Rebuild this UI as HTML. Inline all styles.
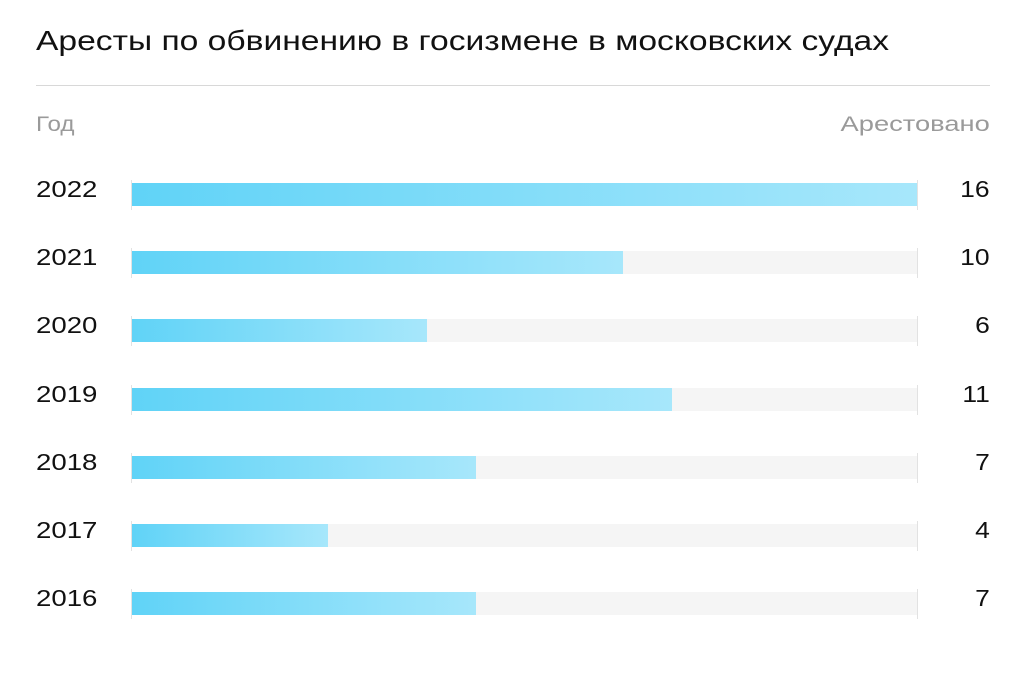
<!DOCTYPE html>
<html><head><meta charset="utf-8"><style>
body{margin:0;width:1024px;height:676px;background:#fff;font-family:"Liberation Sans",sans-serif;position:relative;overflow:hidden;color:#111}
.t{position:absolute;left:36px;top:25px;font-size:28px;color:#111;transform:scaleX(1.2);transform-origin:left}
.hr{position:absolute;left:36px;top:85px;width:954px;height:1px;background:#d8d8d8}
.h{position:absolute;top:113px;font-size:21px;color:#9a9a9a}
.hl{left:36px;transform:scaleX(1.15);transform-origin:left}
.hrt{right:34px;transform:scaleX(1.3);transform-origin:right}
.y{position:absolute;left:36px;font-size:23px;transform:scaleX(1.2);transform-origin:left}
.v{position:absolute;right:34px;font-size:23px;text-align:right;transform:scaleX(1.15);transform-origin:right}
.bg{position:absolute;left:132px;width:785px;height:23px;background:#f5f5f5}
.b{position:absolute;left:0;top:0;height:23px;background:linear-gradient(90deg,#60d3f7,#a7e7fb)}
.tk{position:absolute;width:1px;height:30px;background:#e2e2e2}
</style></head><body>
<div class="t">Аресты по обвинению в госизмене в московских судах</div>
<div class="hr"></div>
<div class="h hl">Год</div>
<div class="h hrt">Арестовано</div>
<div class="y" style="top:176px">2022</div><div class="v" style="top:176px">16</div>
<div class="bg" style="top:183px"><div class="b" style="width:785px"></div></div>
<div class="y" style="top:244px">2021</div><div class="v" style="top:244px">10</div>
<div class="bg" style="top:251px"><div class="b" style="width:491px"></div></div>
<div class="y" style="top:312px">2020</div><div class="v" style="top:312px">6</div>
<div class="bg" style="top:319px"><div class="b" style="width:295px"></div></div>
<div class="y" style="top:381px">2019</div><div class="v" style="top:381px">11</div>
<div class="bg" style="top:388px"><div class="b" style="width:540px"></div></div>
<div class="y" style="top:449px">2018</div><div class="v" style="top:449px">7</div>
<div class="bg" style="top:456px"><div class="b" style="width:344px"></div></div>
<div class="y" style="top:517px">2017</div><div class="v" style="top:517px">4</div>
<div class="bg" style="top:524px"><div class="b" style="width:196px"></div></div>
<div class="y" style="top:585px">2016</div><div class="v" style="top:585px">7</div>
<div class="bg" style="top:592px"><div class="b" style="width:344px"></div></div>
<div class="tk" style="left:131px;top:180px"></div><div class="tk" style="left:917px;top:180px"></div>
<div class="tk" style="left:131px;top:248px"></div><div class="tk" style="left:917px;top:248px"></div>
<div class="tk" style="left:131px;top:316px"></div><div class="tk" style="left:917px;top:316px"></div>
<div class="tk" style="left:131px;top:385px"></div><div class="tk" style="left:917px;top:385px"></div>
<div class="tk" style="left:131px;top:453px"></div><div class="tk" style="left:917px;top:453px"></div>
<div class="tk" style="left:131px;top:521px"></div><div class="tk" style="left:917px;top:521px"></div>
<div class="tk" style="left:131px;top:589px"></div><div class="tk" style="left:917px;top:589px"></div>
</body></html>
